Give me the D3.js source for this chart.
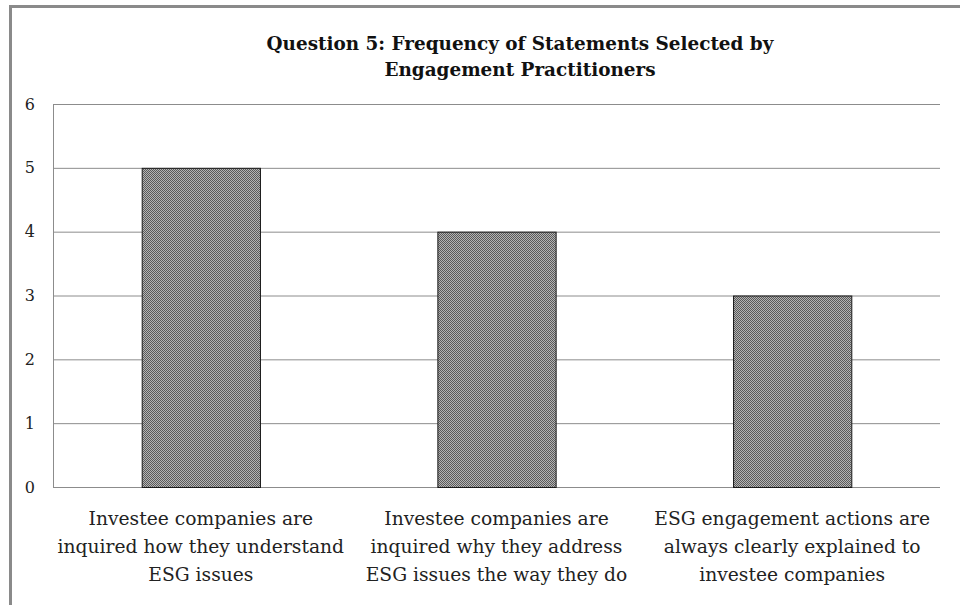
<!DOCTYPE html>
<html><head><meta charset="utf-8">
<script src="https://cdn.jsdelivr.net/npm/d3@7"></script>
<style>body{margin:0;background:#fff}svg{display:block}</style>
</head><body>
<svg id="c" width="960" height="605"></svg>
<script>
const categories = [
  ["Investee companies are","inquired how they understand","ESG issues"],
  ["Investee companies are","inquired why they address","ESG issues the way they do"],
  ["ESG engagement actions are","always clearly explained to","investee companies"]
];
const values = [5, 4, 3];
const yTicks = [0,1,2,3,4,5,6];
const titleLines = ["Question 5: Frequency of Statements Selected by","Engagement Practitioners"];

const svg = d3.select("#c");
const font = "'DejaVu Serif','Liberation Serif',serif";
const m = {left:53, right:940, top:104, bottom:487};

const defs = svg.append("defs");
const pat = defs.append("pattern").attr("id","chk").attr("width",2).attr("height",2).attr("patternUnits","userSpaceOnUse");
pat.append("rect").attr("width",2).attr("height",2).attr("fill","#b4b4b4");
pat.append("rect").attr("width",1).attr("height",1).attr("fill","#5a5a5a");
pat.append("rect").attr("x",1).attr("y",1).attr("width",1).attr("height",1).attr("fill","#5a5a5a");

// frame
svg.append("rect").attr("x",9).attr("y",5).attr("width",960).attr("height",3).attr("fill","#8a8a8a");
svg.append("rect").attr("x",9).attr("y",5).attr("width",3).attr("height",600).attr("fill","#8a8a8a");

const x = d3.scaleBand().domain(d3.range(values.length)).range([m.left, m.right]).paddingInner(0.6).paddingOuter(0.3);
const y = d3.scaleLinear().domain([0,6]).range([m.bottom, m.top]);

// gridlines
svg.append("g").selectAll("line").data(yTicks).join("line")
  .attr("x1",m.left).attr("x2",m.right).attr("y1",d=>y(d)+0.5).attr("y2",d=>y(d)+0.5)
  .attr("stroke","#8c8c8c").attr("stroke-width",1);
svg.append("line").attr("x1",m.left+0.5).attr("x2",m.left+0.5).attr("y1",m.top).attr("y2",m.bottom)
  .attr("stroke","#8c8c8c");

const yAxis = d3.axisLeft(y).tickValues(yTicks).tickSize(0).tickPadding(18).tickFormat(d3.format("d"));
const ga = svg.append("g").attr("transform",`translate(${m.left},0)`).call(yAxis);
ga.select(".domain").remove();
ga.selectAll("text").attr("font-family",font).attr("font-size",16).attr("fill","#222");

// bars
svg.append("g").selectAll("rect").data(values).join("rect")
  .attr("x",(d,i)=>x(i)+0.5).attr("y",d=>y(d)+0.5)
  .attr("width",x.bandwidth()).attr("height",d=>y(0)-y(d))
  .attr("fill","url(#chk)").attr("stroke","#1a1a1a").attr("stroke-width",1);

// category labels
const cg = svg.append("g");
categories.forEach((lines,i)=>{
  const cx = m.left + (m.right-m.left)/values.length*(i+0.5);
  const t = cg.append("text").attr("x",cx).attr("y",525).attr("text-anchor","middle")
    .attr("font-family",font).attr("font-size",18.7).attr("fill","#222");
  lines.forEach((l,j)=>t.append("tspan").attr("x",cx).attr("dy", j===0?0:28).text(l));
});

// title
const tt = svg.append("text").attr("x",520).attr("y",50).attr("text-anchor","middle")
  .attr("font-family",font).attr("font-size",18.4).attr("font-weight","bold").attr("fill","#111");
titleLines.forEach((l,j)=>tt.append("tspan").attr("x",520).attr("dy",j===0?0:26).text(l));
</script>
</body></html>
